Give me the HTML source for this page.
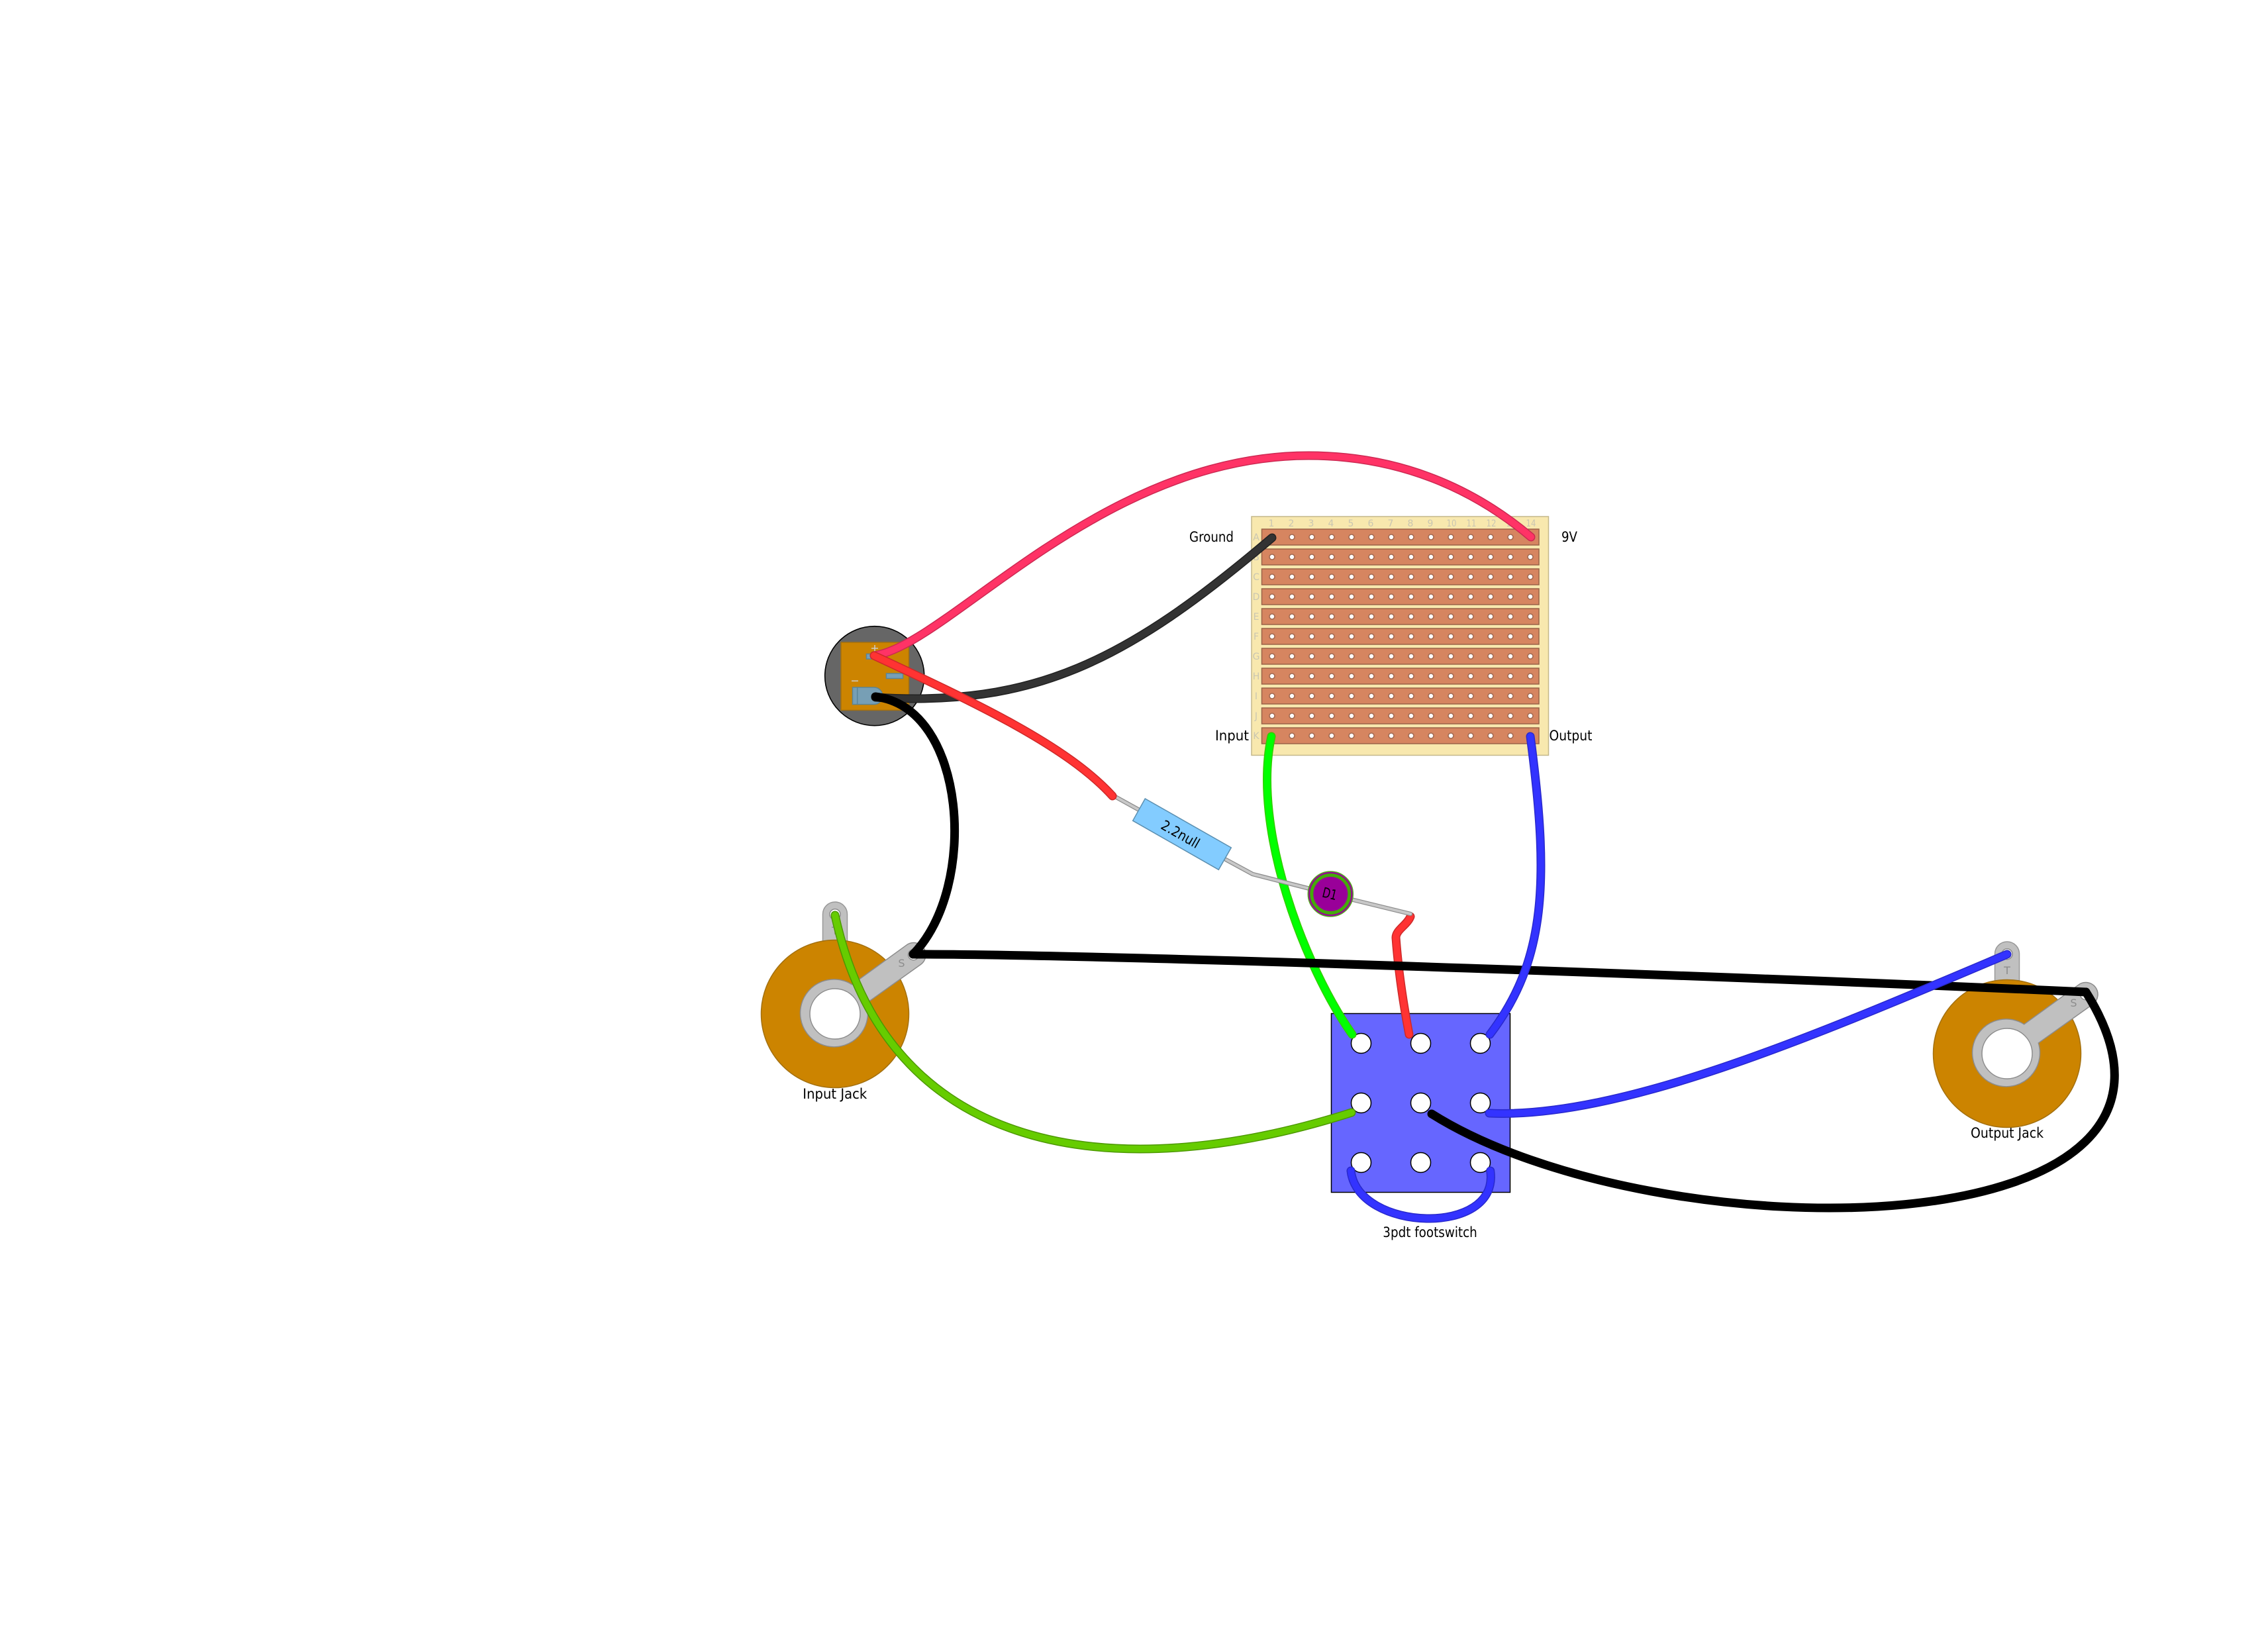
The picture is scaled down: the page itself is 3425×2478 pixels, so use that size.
<!DOCTYPE html>
<html><head><meta charset="utf-8"><style>
html,body{margin:0;padding:0;background:#fff}
svg{display:block}
text{font-family:"DejaVu Sans","Liberation Sans",sans-serif;fill:#000}
.w{fill:none;stroke-linecap:round;stroke-linejoin:round}
.n text,text.n{font-size:14px;fill:#c9c6b2;text-anchor:middle}
</style></head><body>
<svg xmlns="http://www.w3.org/2000/svg" xmlns:xlink="http://www.w3.org/1999/xlink" width="3425" height="2478" viewBox="0 0 3425 2478">
<defs>
<g id="row">
<rect x="1905.5" y="799" width="418.5" height="24" fill="#d68560" stroke="#9a6248" stroke-width="1.5"/>
<g fill="#fff" stroke="#a26a52" stroke-width="1.6">
<circle cx="1921" cy="811" r="4"/><circle cx="1951" cy="811" r="4"/><circle cx="1981" cy="811" r="4"/><circle cx="2011" cy="811" r="4"/><circle cx="2041" cy="811" r="4"/><circle cx="2071" cy="811" r="4"/><circle cx="2101" cy="811" r="4"/><circle cx="2131" cy="811" r="4"/><circle cx="2161" cy="811" r="4"/><circle cx="2191" cy="811" r="4"/><circle cx="2221" cy="811" r="4"/><circle cx="2251" cy="811" r="4"/><circle cx="2281" cy="811" r="4"/><circle cx="2311" cy="811" r="4"/>
</g></g>
<g id="jack">
<path d="M1242.5 1480V1380.5a18.5 18.5 0 0 1 37 0V1480Z" fill="#c0c0c0" stroke="#999" stroke-width="1.5"/>
<circle cx="1261" cy="1531" r="111.5" fill="#cc8400" stroke="#a3700f" stroke-width="1.5"/>
<path d="M1286.7 1486.7A51 51 0 1 0 1308.3 1515L1391 1456A18 18 0 0 0 1368.7 1427.3Z" fill="#c0c0c0" stroke="#8c8c8c" stroke-width="1.5"/>
<circle cx="1261" cy="1531" r="38" fill="#fff" stroke="#8c8c8c" stroke-width="1.5"/>
<circle cx="1261" cy="1380.7" r="8" fill="#fff" stroke="#8c8c8c" stroke-width="1.5"/>
<circle cx="1379.5" cy="1441.7" r="8" fill="#fff" stroke="#8c8c8c" stroke-width="1.5"/>
<text x="1261" y="1411" font-size="16" text-anchor="middle" style="fill:#8c8c8c">T</text>
<text x="1361.5" y="1460" font-size="16" text-anchor="middle" style="fill:#8c8c8c">S</text>
</g>
</defs>

<!-- Board -->
<rect x="1890" y="780" width="448.5" height="360.5" fill="#f8e8ae" stroke="#c4b88a" stroke-width="1.5"/>
<use xlink:href="#row"/><use xlink:href="#row" y="30"/><use xlink:href="#row" y="60"/><use xlink:href="#row" y="90"/><use xlink:href="#row" y="120"/><use xlink:href="#row" y="150"/><use xlink:href="#row" y="180"/><use xlink:href="#row" y="210"/><use xlink:href="#row" y="240"/><use xlink:href="#row" y="270"/><use xlink:href="#row" y="300"/>
<g class="n">
<text x="1920" y="795">1</text><text x="1950" y="795">2</text><text x="1980" y="795">3</text><text x="2010" y="795">4</text><text x="2040" y="795">5</text><text x="2070" y="795">6</text><text x="2100" y="795">7</text><text x="2130" y="795">8</text><text x="2160" y="795">9</text>
<text x="2192" y="795" textLength="15" lengthAdjust="spacingAndGlyphs">10</text><text x="2222" y="795" textLength="15" lengthAdjust="spacingAndGlyphs">11</text><text x="2252" y="795" textLength="15" lengthAdjust="spacingAndGlyphs">12</text><text x="2282" y="795" textLength="15" lengthAdjust="spacingAndGlyphs">13</text><text x="2312" y="795" textLength="15" lengthAdjust="spacingAndGlyphs">14</text>
<text x="1897" y="816">A</text><text x="1897" y="846">B</text><text x="1897" y="876">C</text><text x="1897" y="906">D</text><text x="1897" y="936">E</text><text x="1897" y="966">F</text><text x="1897" y="996">G</text><text x="1897" y="1026">H</text><text x="1897" y="1056">I</text><text x="1897" y="1086">J</text><text x="1897" y="1116">K</text>
</g>
<text x="1796" y="818" font-size="21" textLength="67" lengthAdjust="spacingAndGlyphs">Ground</text>
<text x="2358" y="818" font-size="21" textLength="24" lengthAdjust="spacingAndGlyphs">9V</text>
<text x="1835" y="1118" font-size="21" textLength="51" lengthAdjust="spacingAndGlyphs">Input</text>
<text x="2339.5" y="1118" font-size="21" textLength="65" lengthAdjust="spacingAndGlyphs">Output</text>

<!-- Battery jack -->
<circle cx="1320.7" cy="1020.7" r="75" fill="#666" stroke="#000" stroke-width="1.6"/>
<rect x="1270" y="970" width="102.5" height="102.5" fill="#cc8400" stroke="#a3700f" stroke-width="1.5"/>
<rect x="1308.5" y="987.5" width="25" height="7.5" fill="#779fb5" stroke="#5a8598" stroke-width="1.5"/>
<rect x="1338.5" y="1017" width="25" height="7.5" fill="#779fb5" stroke="#5a8598" stroke-width="1.5"/>
<path d="M1287.5 1038H1320a12.8 12.8 0 0 1 12.8 12.8a12.8 12.8 0 0 1 -12.8 12.8H1287.5ZM1294.7 1038V1063.6" fill="#779fb5" stroke="#5a8598" stroke-width="1.5"/>
<path d="M1321 974V984M1316 979H1326M1286 1028.3H1296" stroke="#ccc" stroke-width="1.5" fill="none"/>

<!-- Footswitch -->
<rect x="2010.5" y="1530.5" width="270" height="270" fill="#6666ff" stroke="#000" stroke-width="1.5"/>
<g fill="#fff" stroke="#000" stroke-width="1.5">
<circle cx="2055.5" cy="1575.5" r="15"/><circle cx="2145.5" cy="1575.5" r="15"/><circle cx="2235.5" cy="1575.5" r="15"/>
<circle cx="2055.5" cy="1665.5" r="15"/><circle cx="2145.5" cy="1665.5" r="15"/><circle cx="2235.5" cy="1665.5" r="15"/>
<circle cx="2055.5" cy="1755.5" r="15"/><circle cx="2145.5" cy="1755.5" r="15"/><circle cx="2235.5" cy="1755.5" r="15"/>
</g>
<text x="2088.3" y="1868" font-size="21" textLength="142.5" lengthAdjust="spacingAndGlyphs">3pdt footswitch</text>

<!-- Jacks -->
<use xlink:href="#jack"/>
<use xlink:href="#jack" x="1770" y="60"/>
<text x="1212.3" y="1659" font-size="21" textLength="97" lengthAdjust="spacingAndGlyphs">Input Jack</text>
<text x="2976" y="1718" font-size="21" textLength="110" lengthAdjust="spacingAndGlyphs">Output Jack</text>

<!-- Wires under leads -->
<g class="w">
<path d="M2130 1384C2125 1397 2108 1404 2108 1416C2112 1470 2120 1520 2128 1562" stroke="#cc2929" stroke-width="13"/>
<path d="M2130 1384C2125 1397 2108 1404 2108 1416C2112 1470 2120 1520 2128 1562" stroke="#ff3333" stroke-width="10"/>
<path d="M1920 1112C1890 1250 1970 1460 2042 1562" stroke="#33cc00" stroke-width="13"/>
<path d="M1920 1112C1890 1250 1970 1460 2042 1562" stroke="#00ff00" stroke-width="10"/>
</g>

<!-- Resistor and diode -->
<g fill="none" stroke-linecap="round" stroke-linejoin="round">
<path d="M1681.7 1201.7L1722 1224M1851.7 1298.3L1891.7 1320L1976.7 1341.7M2040 1358L2130 1380" stroke="#8c8c8c" stroke-width="6.5"/>
<path d="M1681.7 1201.7L1722 1224M1851.7 1298.3L1891.7 1320L1976.7 1341.7M2040 1358L2130 1380" stroke="#c8c8c8" stroke-width="4"/>
</g>
<polygon points="1729.3,1206 1859.3,1280 1840.3,1313.3 1710.7,1239.3" fill="#83ccff" stroke="#5b8fb0" stroke-width="1.5"/>
<text transform="translate(1782.5,1260) rotate(29.6)" x="0" y="7" font-size="21" text-anchor="middle" textLength="63" lengthAdjust="spacingAndGlyphs">2.2null</text>
<circle cx="2009.3" cy="1350" r="34" fill="#990099" stroke="#55aa22" stroke-width="1.5"/>
<circle cx="2009.3" cy="1350" r="28.5" fill="#990099" stroke="#44aa0a" stroke-width="5"/>
<text transform="translate(2008,1350) rotate(14)" x="0" y="7" font-size="21" text-anchor="middle" textLength="22" lengthAdjust="spacingAndGlyphs">D1</text>

<!-- Wires -->
<g class="w">
<path d="M1320 990C1430 975 1660 688 1976 688C2130 688 2240 750 2312 811" stroke="#cc2952" stroke-width="13"/>
<path d="M1320 990C1430 975 1660 688 1976 688C2130 688 2240 750 2312 811" stroke="#ff3366" stroke-width="10"/>
<path d="M1322 1053C1560 1068 1700 1000 1921 812" stroke="#222" stroke-width="13"/>
<path d="M1322 1053C1560 1068 1700 1000 1921 812" stroke="#333" stroke-width="10"/>
<path d="M1322 1052C1460 1068 1478 1340 1379 1441" stroke="#000" stroke-width="13"/>
<path d="M1320 990C1470 1060 1610 1125 1680 1202" stroke="#cc2929" stroke-width="13"/>
<path d="M1320 990C1470 1060 1610 1125 1680 1202" stroke="#ff3333" stroke-width="10"/>
<path d="M1261 1382C1340 1745 1680 1795 2041 1680" stroke="#4d9900" stroke-width="13"/>
<path d="M1261 1382C1340 1745 1680 1795 2041 1680" stroke="#66cc00" stroke-width="10"/>
<path d="M1379 1441C1700 1441 2700 1478 3150 1498" stroke="#000" stroke-width="13"/>
<path d="M2162 1682C2500 1895 3400 1895 3150 1498" stroke="#000" stroke-width="13"/>
<path d="M2311 1112C2340 1330 2335 1450 2250 1562" stroke="#2929cc" stroke-width="13"/>
<path d="M2311 1112C2340 1330 2335 1450 2250 1562" stroke="#3333ff" stroke-width="10"/>
<path d="M2249 1681C2450 1690 2750 1560 3031 1441" stroke="#2929cc" stroke-width="13"/>
<path d="M2249 1681C2450 1690 2750 1560 3031 1441" stroke="#3333ff" stroke-width="10"/>
<path d="M2040 1768C2050 1860 2265 1868 2250.7 1768" stroke="#2929cc" stroke-width="13"/>
<path d="M2040 1768C2050 1860 2265 1868 2250.7 1768" stroke="#3333ff" stroke-width="10"/>
</g>
</svg>
</body></html>
